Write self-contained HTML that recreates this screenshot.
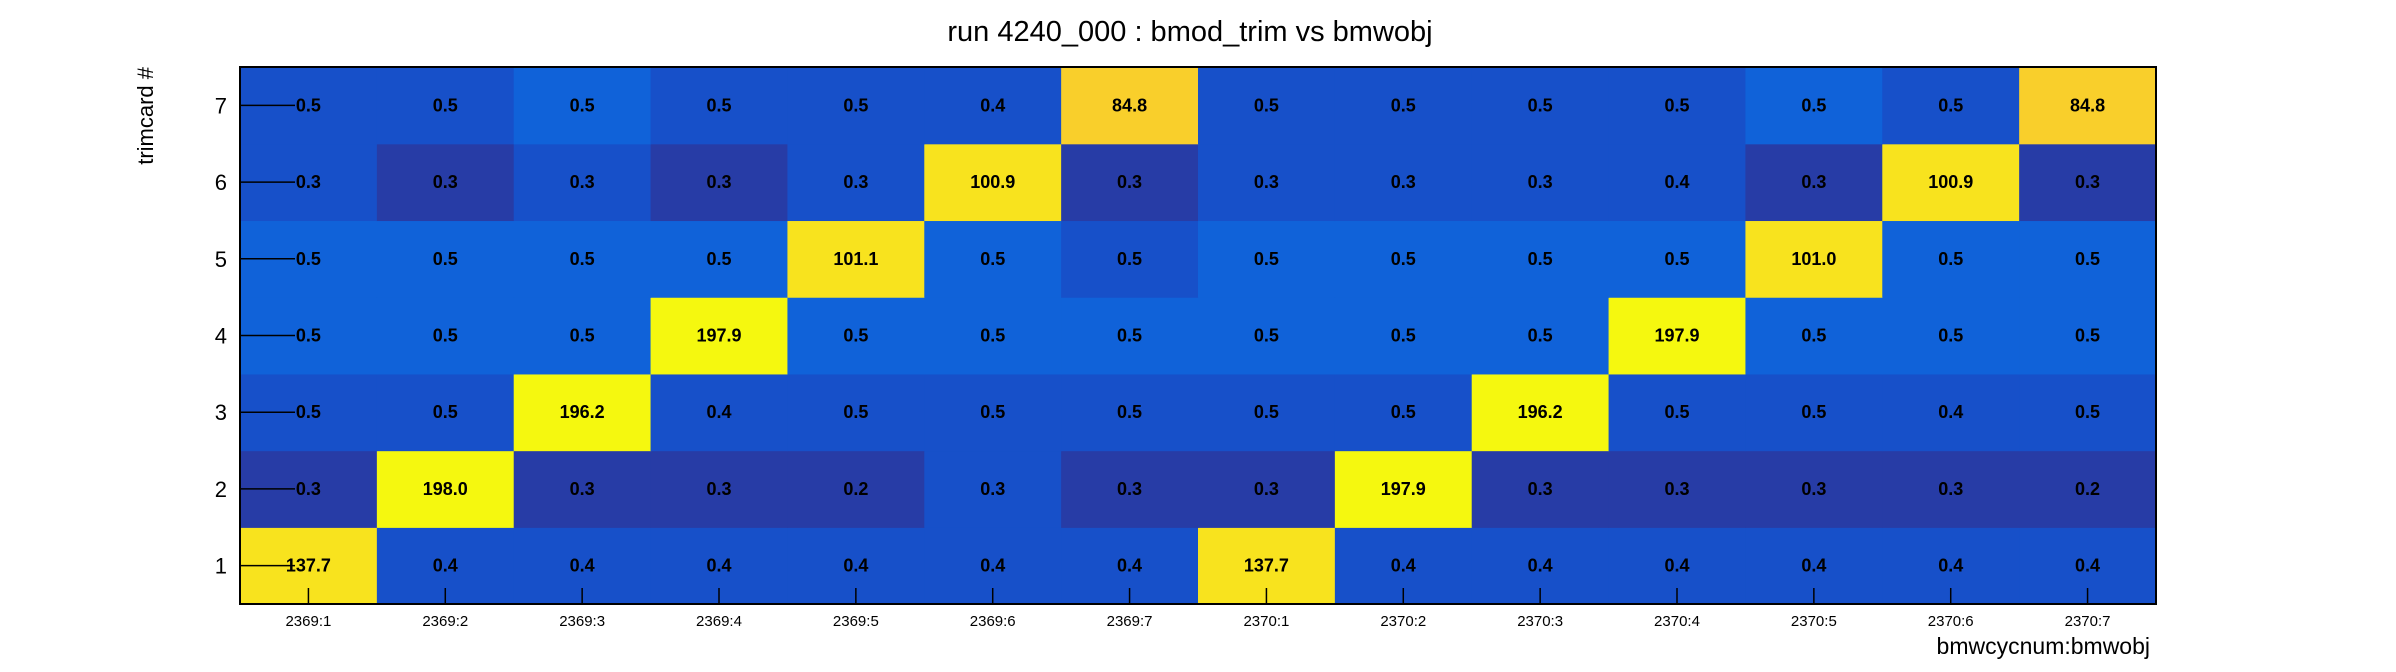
<!DOCTYPE html>
<html><head><meta charset="utf-8"><style>
body{margin:0;background:#fff;}
svg{display:block;font-family:"Liberation Sans",Arial,sans-serif;}
</style></head><body>
<svg id="chart" width="2396" height="672" viewBox="0 0 2396 672">
<text x="1190" y="41" font-size="29" text-anchor="middle">run 4240_000 : bmod_trim vs bmwobj</text>
<g id="cells"></g>
<g id="ticks"></g>
<rect x="240" y="67" width="1916" height="537" fill="none" stroke="#000" stroke-width="2"/>
<text x="2150" y="654" font-size="23" text-anchor="end">bmwcycnum:bmwobj</text>
<text transform="translate(153,67) rotate(-90)" font-size="22" text-anchor="end">trimcard #</text>
</svg>
<script>
const categories = ["2369:1","2369:2","2369:3","2369:4","2369:5","2369:6","2369:7","2370:1","2370:2","2370:3","2370:4","2370:5","2370:6","2370:7"];
const rowLabels = ["1","2","3","4","5","6","7"];
const row1 = [137.7,0.4,0.4,0.4,0.4,0.4,0.4,137.7,0.4,0.4,0.4,0.4,0.4,0.4];
const row2 = [0.3,198.0,0.3,0.3,0.2,0.34,0.3,0.3,197.9,0.3,0.3,0.3,0.3,0.2];
const row3 = [0.47,0.47,196.2,0.4,0.47,0.47,0.47,0.47,0.47,196.2,0.47,0.47,0.4,0.47];
const row4 = [0.52,0.52,0.52,197.9,0.52,0.52,0.52,0.52,0.52,0.52,197.9,0.52,0.52,0.52];
const row5 = [0.52,0.52,0.52,0.52,101.1,0.52,0.47,0.52,0.52,0.52,0.52,101.0,0.52,0.52];
const row6 = [0.34,0.3,0.34,0.3,0.34,100.9,0.3,0.34,0.34,0.34,0.4,0.3,100.9,0.3];
const row7 = [0.47,0.47,0.52,0.47,0.47,0.4,84.8,0.47,0.47,0.47,0.47,0.52,0.47,84.8];
const rows = [row1,row2,row3,row4,row5,row6,row7];

const L=240,T=67,W=1916,H=537;
const cw=W/categories.length, rh=H/rowLabels.length;
const xPos=i=>L+i*cw;
const yPos=j=>T+H-(j+1)*rh;
function color(v){
  if(v>=190) return "#f5f80f";
  if(v>=95) return "#f8e31e";
  if(v>=60) return "#f9cf2b";
  if(v>=0.5) return "#1062d9";
  if(v>=0.33) return "#1750c9";
  return "#273ca6";
}
const NS="http://www.w3.org/2000/svg";
const cells=document.getElementById("cells"), ticks=document.getElementById("ticks");
rows.forEach((r,j)=>{
  r.forEach((v,i)=>{
    const rc=document.createElementNS(NS,"rect");
    
    
    rc.setAttribute("x",xPos(i));rc.setAttribute("y",yPos(j));
    rc.setAttribute("width",cw+0.6);rc.setAttribute("height",rh+0.6);
    rc.setAttribute("fill",color(v));
    cells.appendChild(rc);
  });
});
rows.forEach((r,j)=>{
  r.forEach((v,i)=>{
    const t=document.createElementNS(NS,"text");
    
    
    t.setAttribute("x",xPos(i)+cw/2);t.setAttribute("y",yPos(j)+rh/2+6);
    t.setAttribute("text-anchor","middle");t.setAttribute("font-size","18");t.setAttribute("font-weight","bold");
    t.textContent=v.toFixed(1);
    cells.appendChild(t);
  });
});
categories.forEach((c,i)=>{
  const x=xPos(i)+cw/2;
  const ln=document.createElementNS(NS,"line");
  
  
  ln.setAttribute("x1",x);ln.setAttribute("x2",x);ln.setAttribute("y1",T+H);ln.setAttribute("y2",T+H-16);
  ln.setAttribute("stroke","#000");ln.setAttribute("stroke-width","1.5");
  ticks.appendChild(ln);
  const t=document.createElementNS(NS,"text");
  
  
  t.setAttribute("x",x);t.setAttribute("y",626);t.setAttribute("text-anchor","middle");t.setAttribute("font-size","15");
  t.textContent=c;ticks.appendChild(t);
});
rowLabels.forEach((c,j)=>{
  const y=yPos(j)+rh/2;
  const ln=document.createElementNS(NS,"line");
  
  
  ln.setAttribute("x1",L);ln.setAttribute("x2",L+55);ln.setAttribute("y1",y);ln.setAttribute("y2",y);
  ln.setAttribute("stroke","#000");ln.setAttribute("stroke-width","1.5");
  ticks.appendChild(ln);
  const t=document.createElementNS(NS,"text");
  
  
  t.setAttribute("x",227);t.setAttribute("y",y+8);t.setAttribute("text-anchor","end");t.setAttribute("font-size","22");
  t.textContent=c;ticks.appendChild(t);
});
</script>
</body></html>
